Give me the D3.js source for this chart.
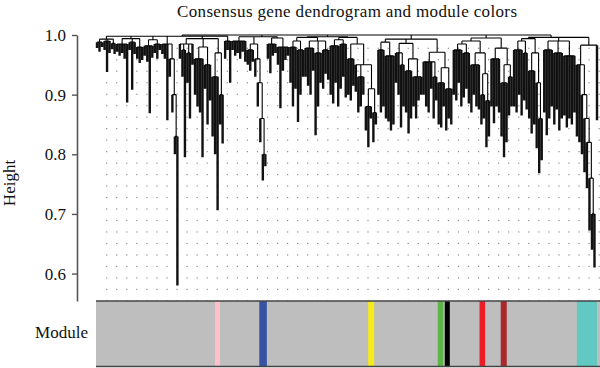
<!DOCTYPE html>
<html>
<head>
<meta charset="utf-8">
<script src="https://cdn.jsdelivr.net/npm/d3@7"></script>
<style>
  body { margin: 0; background: #fff; }
  svg { display: block; }
  text { font-family: "Liberation Serif", "Times New Roman", serif; fill: #111; }
</style>
</head>
<body>
<div id="chart"></div>
<script>
const title = "Consensus gene dendrogram and module colors";
const heightTicks = [0.6, 0.7, 0.8, 0.9, 1.0];

// branches, left to right
// [merge height, ...children]; a bare number is a leaf, the height its line hangs down to
const branchA = [0.998,
  [0.993, [0.988, 0.978, 0.972, 0.98], [0.99, 0.975, 0.938, 0.97], [0.986, 0.976, 0.968]],
  [0.994, [0.985, 0.972, 0.965, 0.97, 0.96, 0.887], [0.988, 0.975, 0.908, 0.968], [0.98, 0.96, 0.953, 0.958]],
  [0.992, [0.982, 0.965, 0.955, 0.869, 0.962], [0.985, 0.97, 0.96, 0.975]],
  [0.985, 0.968, 0.96, 0.857, [0.96, 0.93, [0.9, 0.87, [0.83, 0.8, 0.58]]]]];
const branchC = [0.994,
  [0.985, 0.96, [0.975, 0.93, 0.795], [0.97, 0.92, 0.86], 0.95],
  [0.98, [0.96, 0.9, 0.88, 0.87, 0.795], [0.95, 0.91, 0.85, 0.89]],
  [0.97, [0.93, 0.83, 0.8, 0.706], [0.9, 0.85, 0.818]]];
const branchD = [0.99, 0.96, 0.975, 0.92];
const branchE = [0.997,
  [0.99, 0.975, 0.965, 0.97, 0.96, 0.972, 0.955],
  [0.985, [0.975, 0.95, 0.94, 0.955], [0.96, 0.93, [0.92, 0.88, [0.86, 0.82, [0.8, 0.756, 0.78]]]]]];
const branchF = [0.995, [0.985, 0.96, 0.936, 0.965, 0.97], [0.98, 0.95, 0.877, 0.94, 0.958, 0.965]];
const branchG = [0.996,
  [0.99, [0.98, 0.92, 0.88, 0.91], [0.975, 0.854, 0.9, 0.93]],
  [0.99, [0.978, 0.93, 0.915, 0.9, 0.94], [0.97, 0.832, 0.88, 0.92], [0.975, 0.91, 0.935, 0.925]]];
const branchH = [0.996,
  [0.992, [0.982, 0.9, 0.885, 0.92, 0.88], [0.985, 0.91, 0.93, 0.895]],
  [0.985, [0.96, 0.9, 0.89, 0.915],
    [0.95, 0.905, [0.93, 0.87, 0.88, 0.9], [0.91, [0.88, 0.84, 0.812, 0.86], [0.87, 0.82, 0.85]]]]];
const branchI = [0.988, [0.975, 0.9, 0.87, 0.88], [0.965, 0.86, 0.855, 0.84, 0.85]];
const branchJ = [0.986, [0.97, 0.92, 0.9, [0.95, 0.845, 0.88]],
  [0.96, [0.94, 0.87, 0.835, 0.86], [0.93, 0.88, 0.86, 0.89, 0.9]]];
const branchK = [0.971, [0.955, 0.9, 0.88, 0.87, 0.91, [0.93, 0.86, 0.89]],
  [0.945, [0.92, 0.85, 0.845, 0.88], [0.91, 0.84, 0.86, 0.85]]];
const branchL = [0.99,
  [0.985, [0.975, 0.9, 0.89, 0.92, 0.88], [0.97, 0.895, 0.91, 0.885]],
  [0.97, [0.95, 0.87, 0.9, 0.88, 0.875], [0.935, [0.9, 0.85, 0.86], [0.89, 0.812, 0.83]]]];
const branchM = [0.978, [0.96, 0.88, 0.852, 0.88, 0.87], [0.95, [0.92, 0.83, 0.795, 0.82], [0.93, 0.865, 0.88]]];
const branchN = [0.994,
  [0.99, [0.975, 0.88, 0.87, 0.9, 0.865], [0.97, 0.89, 0.875]],
  [0.97, [0.94, 0.86, 0.835, 0.85], [0.92, 0.81, [0.86, 0.768, 0.79]]]];
const branchO = [0.996,
  [0.99, [0.975, 0.87, 0.832, 0.86, 0.88], [0.97, 0.85, 0.875, 0.84, 0.86], [0.965, 0.865, 0.845, 0.86, 0.85, 0.87]],
  [0.983, [0.95, 0.83, 0.82, [0.9, 0.8, [0.86, 0.77, [0.82, 0.743, [0.76, 0.672, [0.7, 0.64, 0.61]]]]]], 0.857]];

const dendrogram = [1.0,
  [0.998, branchA, branchC, branchD],
  [0.997, branchE, branchF],
  [0.997, branchG, branchH],
  [0.993, branchI, branchJ, branchK],
  [0.995, branchL, branchM],
  [0.996, branchN, branchO]];

// module colour bar, positions in % of the gene order
const moduleNames = ["pink", "blue", "yellow", "green", "black", "red", "brown", "turquoise"];
const moduleFill = ["#ffc0cb", "#3953a4", "#f4ea1c", "#5db548", "#000000", "#ee1c24", "#a8282d", "#62c8c2"];
const moduleStart = [23.6, 32.4, 54.0, 67.8, 69.2, 76.1, 80.3, 95.4];
const moduleEnd = [24.6, 33.9, 55.2, 68.9, 70.2, 77.2, 81.5, 99.4];

const w = 600, h = 368;
const svg = d3.select("#chart").append("svg").attr("width", w).attr("height", h);

const y = d3.scaleLinear().domain([0.554, 1.0]).range([301, 35]);

// dotted background
const dotX = d3.range(106.7, 600, 10.05);
const dotY = d3.range(0, 23).map(k => 48.3 + k * 11.48);
svg.append("g").selectAll("rect")
  .data(d3.cross(dotX, dotY))
  .enter().append("rect")
  .attr("x", d => d[0] - 0.6).attr("y", d => d[1] - 0.6)
  .attr("width", 1.2).attr("height", 1.2)
  .attr("fill", "#8c8c8c");

// dendrogram
const root = d3.hierarchy(dendrogram, d => Array.isArray(d) ? d.slice(1) : null);
const leaves = root.leaves();
const x = d3.scaleLinear().domain([0, leaves.length - 1]).range([97, 597]);
leaves.forEach((d, i) => { d.px = x(i); });
root.eachAfter(d => {
  d.merge = Array.isArray(d.data) ? d.data[0] : d.data;
  if (d.children) d.px = (d.children[0].px + d.children[d.children.length - 1].px) / 2;
});

// leaf drops drawn wide so the packed genes read as dark masses
const leafDrops = [], stems = [], bars = [];
root.each(d => {
  if (d.parent) (d.children ? stems : leafDrops).push(`M${d.px},${y(d.parent.merge)}V${y(d.merge)}`);
  if (d.children) bars.push(`M${d.children[0].px},${y(d.merge)}H${d.children[d.children.length - 1].px}`);
});
svg.append("path")
  .attr("d", leafDrops.join(""))
  .attr("fill", "none")
  .attr("stroke", "#111")
  .attr("stroke-width", 2.4);
svg.append("path")
  .attr("d", stems.join("") + bars.join(""))
  .attr("fill", "none")
  .attr("stroke", "#000")
  .attr("stroke-width", 1.1);

// y axis
const yAxis = svg.append("g")
  .attr("transform", "translate(77,0)")
  .call(d3.axisLeft(y).tickValues(heightTicks).tickFormat(d3.format(".1f"))
    .tickSize(5).tickSizeOuter(0).tickPadding(6));
yAxis.select(".domain").attr("stroke", "#555").attr("stroke-width", 1.6);
yAxis.selectAll(".tick line").attr("stroke", "#555").attr("stroke-width", 1.4);
yAxis.selectAll(".tick text").attr("font-size", 17).attr("font-family", "Liberation Serif, serif").attr("fill", "#111");

svg.append("text")
  .attr("transform", "translate(15,183) rotate(-90)")
  .attr("text-anchor", "middle")
  .attr("font-size", 17)
  .text("Height");

svg.append("text")
  .attr("x", 347).attr("y", 17)
  .attr("text-anchor", "middle")
  .attr("font-size", 17)
  .attr("textLength", 340)
  .attr("lengthAdjust", "spacing")
  .text(title);

// module colours
const xm = d3.scaleLinear().domain([0, 100]).range([96, 600]);
const bar = svg.append("g");
bar.append("rect")
  .attr("x", xm(0)).attr("y", 301)
  .attr("width", xm(100) - xm(0)).attr("height", 66)
  .attr("fill", "#bfbebe");
bar.selectAll(".mod")
  .data(moduleNames)
  .enter().append("rect")
  .attr("class", "mod")
  .attr("x", (d, i) => xm(moduleStart[i]))
  .attr("y", 301)
  .attr("width", (d, i) => xm(moduleEnd[i]) - xm(moduleStart[i]))
  .attr("height", 66)
  .attr("fill", (d, i) => moduleFill[i]);
bar.append("line").attr("x1", 96).attr("x2", 600).attr("y1", 301).attr("y2", 301)
  .attr("stroke", "#444").attr("stroke-width", 1.5);
bar.append("line").attr("x1", 96).attr("x2", 600).attr("y1", 366.5).attr("y2", 366.5)
  .attr("stroke", "#444").attr("stroke-width", 1.5);

svg.append("text")
  .attr("x", 88).attr("y", 338)
  .attr("text-anchor", "end")
  .attr("font-size", 17)
  .text("Module");
</script>
</body>
</html>
